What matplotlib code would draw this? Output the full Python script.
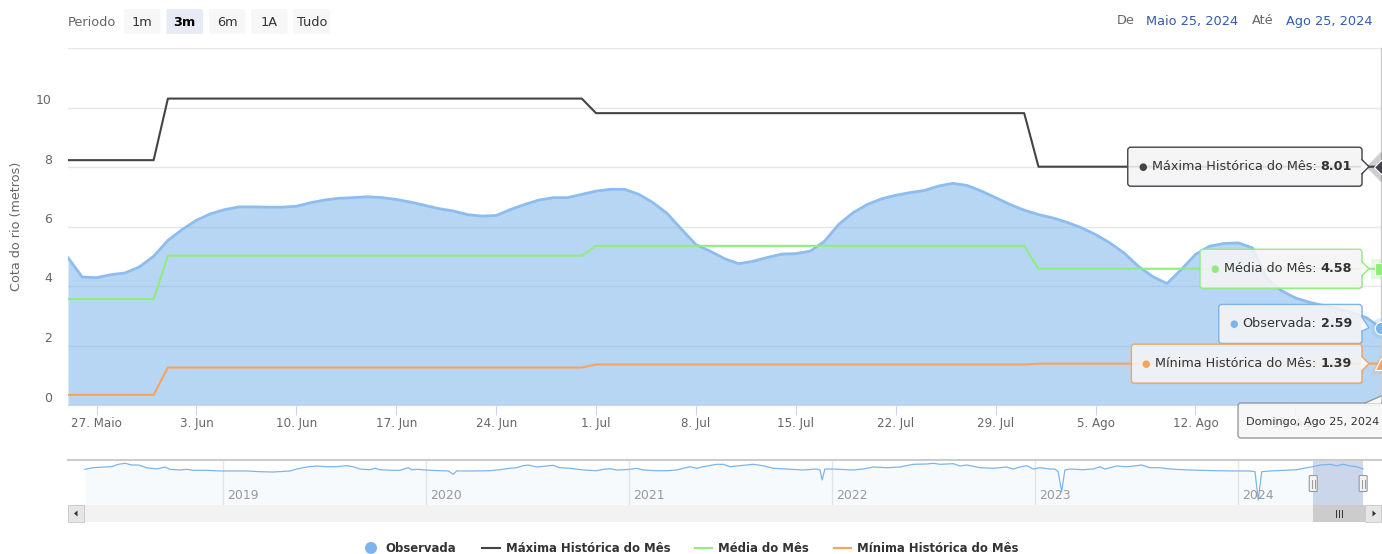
import numpy as np
import pandas as pd
import matplotlib
matplotlib.use('Agg')
import matplotlib.pyplot as plt
import matplotlib.dates as mdates
import matplotlib.transforms as mtransforms
from matplotlib.patches import FancyBboxPatch, Rectangle, Polygon, Circle
from matplotlib.lines import Line2D

plt.rcParams['font.family'] = ['DejaVu Sans']

W, H = 1382, 554

# ------------------------------------------------------------------------
# Data
days = pd.date_range('2024-05-25', '2024-08-25', freq='D')
observada = [4.95, 4.30, 4.28, 4.38, 4.44, 4.64, 5.00,
             5.53, 5.90, 6.21, 6.43, 6.57, 6.66, 6.66, 6.65, 6.65, 6.68,
             6.80, 6.89, 6.95, 6.97, 7.00, 6.97, 6.91, 6.82, 6.71, 6.60,
             6.52, 6.40, 6.35, 6.37, 6.57, 6.74, 6.89, 6.97, 6.97, 7.08,
             7.19, 7.25, 7.25, 7.08, 6.80, 6.43, 5.90, 5.39, 5.17, 4.92,
             4.75, 4.83, 4.96, 5.07, 5.09, 5.17, 5.50, 6.07, 6.46, 6.74,
             6.93, 7.05, 7.14, 7.21, 7.36, 7.45, 7.38, 7.19, 6.97, 6.74, 6.55,
             6.40, 6.29, 6.14, 5.96, 5.73, 5.45, 5.11, 4.66, 4.32, 4.08,
             4.55, 5.06, 5.34, 5.43, 5.45, 5.28, 4.25, 3.85, 3.60, 3.45,
             3.34, 3.24, 3.10, 2.93, 2.59]

months = ['2024-05', '2024-06', '2024-07', '2024-08']
maxima_mes = [8.23, 10.30, 9.81, 8.01]
media_mes = [3.56, 5.02, 5.35, 4.58]
minima_mes = [0.34, 1.26, 1.36, 1.39]

y_ticks = [0, 2, 4, 6, 8, 10, 12]
tick_dates = pd.to_datetime(['2024-05-27', '2024-06-03', '2024-06-10', '2024-06-17',
                             '2024-06-24', '2024-07-01', '2024-07-08', '2024-07-15',
                             '2024-07-22', '2024-07-29', '2024-08-05', '2024-08-12',
                             '2024-08-19'])
tick_labels = ['27. Maio', '3. Jun', '10. Jun', '17. Jun', '24. Jun', '1. Jul', '8. Jul',
               '15. Jul', '22. Jul', '29. Jul', '5. Ago', '12. Ago', '19. Ago']
month_pt = {5: 'Maio', 6: 'Jun', 7: 'Jul', 8: 'Ago'}
weekday_pt = ['Segunda', 'Terça', 'Quarta', 'Quinta', 'Sexta', 'Sábado', 'Domingo']

# navigator (whole record, decimal years)
nav_year = [2018.318, 2018.359, 2018.409, 2018.450, 2018.483, 2018.516, 2018.549, 2018.581,
            2018.622, 2018.672, 2018.713, 2018.737, 2018.787, 2018.820, 2018.852, 2018.918,
            2018.984, 2019.049, 2019.115, 2019.181, 2019.246, 2019.329, 2019.362, 2019.411,
            2019.460, 2019.510, 2019.559, 2019.608, 2019.641, 2019.674, 2019.723, 2019.748,
            2019.772, 2019.838, 2019.871, 2019.912, 2019.929, 2019.961, 2019.994, 2020.068,
            2020.109, 2020.134, 2020.150, 2020.232, 2020.314, 2020.364, 2020.413, 2020.446,
            2020.479, 2020.503, 2020.545, 2020.577, 2020.626, 2020.659, 2020.709, 2020.774,
            2020.840, 2020.873, 2020.906, 2020.939, 2020.971, 2021.004, 2021.037, 2021.070,
            2021.136, 2021.185, 2021.235, 2021.267, 2021.300, 2021.333, 2021.366, 2021.432,
            2021.464, 2021.497, 2021.547, 2021.612, 2021.661, 2021.711, 2021.777, 2021.859,
            2021.925, 2021.941, 2021.952, 2021.965, 2022.006, 2022.105, 2022.154, 2022.204,
            2022.270, 2022.335, 2022.368, 2022.401, 2022.467, 2022.499, 2022.532, 2022.598,
            2022.631, 2022.664, 2022.729, 2022.795, 2022.861, 2022.894, 2022.926, 2022.960,
            2022.992, 2023.025, 2023.074, 2023.099, 2023.115, 2023.132, 2023.148, 2023.172,
            2023.238, 2023.288, 2023.321, 2023.345, 2023.370, 2023.403, 2023.452, 2023.502,
            2023.526, 2023.567, 2023.616, 2023.666, 2023.731, 2023.814, 2023.896, 2023.994,
            2024.060, 2024.085, 2024.101, 2024.118, 2024.159, 2024.224, 2024.290, 2024.340,
            2024.372, 2024.405, 2024.454, 2024.487, 2024.520, 2024.553, 2024.586, 2024.618]
nav_level = [7.93, 8.29, 8.44, 8.51, 9.04, 9.27, 8.89, 8.89,
             8.29, 8.00, 8.44, 7.93, 7.78, 7.93, 7.71, 7.71,
             7.56, 7.56, 7.56, 7.40, 7.33, 7.56, 8.00, 8.44,
             8.67, 8.51, 8.51, 8.73, 8.51, 8.00, 7.84, 8.16,
             7.84, 7.71, 7.71, 8.29, 7.84, 7.93, 7.78, 7.62,
             7.56, 6.82, 7.56, 7.56, 7.62, 7.84, 8.16, 8.29,
             8.73, 8.89, 8.44, 8.60, 8.82, 8.29, 8.16, 7.78,
             7.62, 7.93, 8.07, 7.78, 7.84, 7.93, 8.16, 7.78,
             7.62, 7.62, 7.78, 8.16, 8.51, 8.16, 8.51, 9.04,
             9.04, 8.51, 8.73, 9.04, 8.73, 8.16, 8.00, 7.78,
             8.00, 7.78, 5.56, 8.00, 8.00, 7.78, 8.00, 8.44,
             8.29, 8.44, 8.73, 9.04, 9.11, 9.27, 9.04, 9.18,
             8.67, 8.89, 8.29, 8.16, 8.44, 8.00, 8.44, 8.73,
             8.00, 8.29, 8.00, 8.00, 7.40, 2.96, 7.78, 8.00,
             7.84, 8.00, 8.51, 8.00, 8.29, 8.67, 8.51, 8.73,
             8.89, 8.29, 8.29, 8.00, 7.84, 7.71, 7.62, 7.56,
             7.56, 7.40, 1.11, 7.40, 7.56, 7.71, 7.84, 8.29,
             8.51, 8.89, 9.04, 8.73, 9.04, 8.67, 8.51, 8.00]
nav_years = [2019, 2020, 2021, 2022, 2023, 2024]
nav_window = (2024.372, 2024.618)
# ------------------------------------------------------------------------

month_of_day = list(days.strftime('%Y-%m'))
maxima = [maxima_mes[months.index(m)] for m in month_of_day]
media = [media_mes[months.index(m)] for m in month_of_day]
minima = [minima_mes[months.index(m)] for m in month_of_day]

C_OBS, C_MAX, C_MED, C_MIN = '#7cb5ec', '#434348', '#90ed7d', '#f7a35c'

fig = plt.figure(figsize=(W / 100, H / 100), dpi=100)
fig.patch.set_facecolor('white')
IDT = mtransforms.IdentityTransform()


def P(x, y):
    # top-left pixel coords -> display coords
    return x, H - y


# ---- main chart
ax = fig.add_axes([68 / W, 1 - 405 / H, (1381 - 68) / W, (405 - 48) / H])
ax.set_xlim(days[0], days[-1])
ax.set_ylim(0, 12)

ax.fill_between(days, observada, 0, color=C_OBS, alpha=0.55, lw=0, zorder=2)
ax.plot(days, observada, color='#8cbdee', lw=2.0, zorder=3)
ax.plot(days, maxima, color=C_MAX, lw=1.5, zorder=4)
ax.plot(days, media, color=C_MED, lw=1.5, zorder=4)
ax.plot(days, minima, color=C_MIN, lw=1.5, zorder=4)

ax.set_yticks(y_ticks)
ax.tick_params(axis='y', length=0, labelleft=False)
ax.yaxis.grid(True, color='#e6e6e6', lw=1)
ax.set_axisbelow(True)
for v in y_ticks[:-1]:
    ax.annotate(str(v), xy=(0, v), xycoords=('axes fraction', 'data'), xytext=(-16, 7),
                textcoords='offset pixels', ha='right', va='center', color='#666666', fontsize=9)

ax.set_xticks(tick_dates, tick_labels)
ax.tick_params(axis='x', length=7.2, width=0.8, color='#ccd6eb', labelcolor='#666666',
               labelsize=8.6, pad=1.5)
for s in ['left', 'right', 'top']:
    ax.spines[s].set_visible(False)
ax.spines['bottom'].set_color('#ccd6eb')

fig.text(*P(17, 226), 'Cota do rio (metros)', transform=IDT, rotation=90, ha='center',
         va='center', color='#666666', fontsize=9.2)

# crosshair + hover markers
xe = days[-1]
ax.axvline(xe, color='#cccccc', lw=1, clip_on=False, zorder=5)
for val, mk, c, ms in [(maxima[-1], 'D', C_MAX, 7), (media[-1], 's', C_MED, 8),
                       (observada[-1], 'o', C_OBS, 9), (minima[-1], '^', C_MIN, 9)]:
    ax.plot([xe], [val], marker=mk, ms=15, color=c, alpha=0.25, mew=0, ls='none',
            clip_on=False, zorder=6)
    ax.plot([xe], [val], marker=mk, ms=ms, color=c, mec='white', mew=0.8, ls='none',
            clip_on=False, zorder=7)

# ---- split tooltips
renderer = fig.canvas.get_renderer()
TT = 9.2


def tooltip(val, label, color, dy=0):
    x0, y0 = ax.transData.transform((mdates.date2num(xe), val))
    cy = y0 + dy
    right = x0 - 19
    t_val = fig.text(right - 10, cy, f'{val:.2f}', transform=IDT, ha='right', va='center',
                     fontsize=TT, fontweight='bold', color='#333333', zorder=12)
    wv = t_val.get_window_extent(renderer).width
    t_lab = fig.text(right - 14 - wv, cy, label + ':', transform=IDT, ha='right', va='center',
                     fontsize=TT, color='#333333', zorder=12)
    wl = t_lab.get_window_extent(renderer).width
    left_text = right - 14 - wv - wl
    fig.text(left_text - 5, cy, '●', transform=IDT, ha='right', va='center', fontsize=7,
             color=color, zorder=12)
    left = left_text - 24
    fig.add_artist(FancyBboxPatch((left + 1, cy - 20.5), right - left, 39,
                                  boxstyle='round,pad=0,rounding_size=3', transform=IDT,
                                  fc=(0, 0, 0, 0.08), ec='none', zorder=10))
    fig.add_artist(FancyBboxPatch((left, cy - 19.5), right - left, 39,
                                  boxstyle='round,pad=0,rounding_size=3', transform=IDT,
                                  fc=(0.969, 0.969, 0.969, 0.88), ec=color, lw=1, zorder=10.5))
    fig.add_artist(Polygon([(right - 1, cy + 7), (right + 7, y0), (right - 1, cy - 7)],
                           closed=True, transform=IDT, fc='#f7f7f7', ec='none', zorder=11))
    fig.add_artist(Line2D([right, right + 7, right], [cy + 7, y0, cy - 7], transform=IDT,
                          color=color, lw=1, zorder=11.5))


tooltip(maxima[-1], 'Máxima Histórica do Mês', C_MAX)
tooltip(media[-1], 'Média do Mês', C_MED)
tooltip(observada[-1], 'Observada', C_OBS, dy=4)
tooltip(minima[-1], 'Mínima Histórica do Mês', C_MIN)

# date header of the tooltip
header = f'{weekday_pt[xe.dayofweek]}, {month_pt[xe.month]} {xe.day}, {xe.year}'
fig.add_artist(FancyBboxPatch(P(1238, 438), 160, 35, boxstyle='round,pad=0,rounding_size=3',
                              transform=IDT, fc=(0.969, 0.969, 0.969, 0.88), ec='#999999',
                              lw=1, zorder=10.5))
fig.add_artist(Polygon([P(1365, 403.5), P(1381, 396), P(1381, 403.5)], closed=True,
                       transform=IDT, fc='#f7f7f7', ec='none', zorder=11))
fig.add_artist(Line2D([1365, 1381], [H - 403, H - 396], transform=IDT, color='#999999',
                      lw=1, zorder=11.5))
fig.text(*P(1246, 422), header, transform=IDT, ha='left', va='center', fontsize=8.1,
         color='#333333', zorder=12)

# ---- range selector + input dates
fig.text(*P(68, 22), 'Periodo', transform=IDT, ha='left', va='center', fontsize=9.3,
         color='#666666')
buttons = ['1m', '3m', '6m', '1A', 'Tudo']
btn_left = [124, 166.5, 209, 251, 293.5]
for lbl, bx in zip(buttons, btn_left):
    sel = lbl == '3m'
    fig.add_artist(FancyBboxPatch(P(bx, 34), 36.5, 25, boxstyle='round,pad=0,rounding_size=2',
                                  transform=IDT, fc='#e6ebf5' if sel else '#f7f7f7', ec='none'))
    fig.text(*P(bx + 18.25, 22), lbl, transform=IDT, ha='center', va='center', fontsize=9.3,
             color='#000000' if sel else '#333333', fontweight='bold' if sel else 'normal')

d0, d1 = days[0], days[-1]
for s, x, c in [('De', 1117, '#666666'),
                (f'{month_pt[d0.month]} {d0.day}, {d0.year}', 1146, '#335cad'),
                ('Até', 1252, '#666666'),
                (f'{month_pt[d1.month]} {d1.day}, {d1.year}', 1286, '#335cad')]:
    fig.text(*P(x, 21), s, transform=IDT, ha='left', va='center', fontsize=9.3, color=c)

# ---- navigator
nav = fig.add_axes([68 / W, 1 - 505 / H, (1381 - 68) / W, 45 / H])
nav.set_xlim(2018.235, 2024.706)
nav.set_ylim(0, 10)
nav.fill_between(nav_year, nav_level, 0, color=C_OBS, alpha=0.06, lw=0)
nav.plot(nav_year, nav_level, color=C_OBS, lw=0.9)
nav.set_xticks(nav_years)
nav.set_yticks([])
nav.tick_params(axis='x', length=0, labelbottom=False)
nav.xaxis.grid(True, color='#e6e6e6', lw=1)
nav.set_axisbelow(True)
for s in nav.spines.values():
    s.set_visible(False)
nav.spines['top'].set_visible(True)
nav.spines['top'].set_color('#cccccc')
nav.spines['top'].set_linewidth(1.5)
for yr in nav_years:
    nav.annotate(str(yr), xy=(yr, 0.22), xycoords=('data', 'axes fraction'), xytext=(4, 0),
                 textcoords='offset pixels', ha='left', va='center', color='#999999', fontsize=9)
nav.axvspan(*nav_window, color=(0.4, 0.522, 0.761), alpha=0.3, lw=0)

wx0 = nav.transData.transform((nav_window[0], 0))[0]
wx1 = nav.transData.transform((nav_window[1], 0))[0]
for hx in (wx0, wx1):
    fig.add_artist(FancyBboxPatch((hx - 4, H - 491.5), 8, 16, boxstyle='round,pad=0,rounding_size=1',
                                  transform=IDT, fc='#f2f2f2', ec='#999999', lw=0.8, zorder=5))
    for dx in (-1.5, 1.5):
        fig.add_artist(Line2D([hx + dx, hx + dx], [H - 487.5, H - 479.5], transform=IDT,
                              color='#999999', lw=0.7, zorder=6))

# ---- scrollbar
fig.add_artist(Rectangle(P(68, 522), 1313, 17, transform=IDT, fc='#f2f2f2', ec='none'))
fig.add_artist(Rectangle(P(68, 522), 16, 17, transform=IDT, fc='#e6e6e6', ec='#cccccc', lw=0.7))
fig.add_artist(Polygon([P(74, 513.5), P(77.5, 510.5), P(77.5, 516.5)], closed=True,
                       transform=IDT, fc='#333333', ec='none'))
fig.add_artist(Rectangle((wx0, H - 522), 1365 - wx0, 17, transform=IDT, fc='#cccccc', ec='none'))
fig.add_artist(Rectangle(P(1365, 522), 16, 17, transform=IDT, fc='#e6e6e6', ec='#cccccc', lw=0.7))
fig.add_artist(Polygon([P(1376, 513.5), P(1372.5, 510.5), P(1372.5, 516.5)], closed=True,
                       transform=IDT, fc='#333333', ec='none'))
rx = (wx0 + 1365) / 2
for dx in (-3, 0, 3):
    fig.add_artist(Line2D([rx + dx, rx + dx], [H - 517, H - 510], transform=IDT,
                          color='#333333', lw=0.7))

# ---- legend
LY = 548
fig.add_artist(Circle(P(371, LY), 6, transform=IDT, fc=C_OBS, ec='none'))
fig.text(*P(385, LY), 'Observada', transform=IDT, ha='left', va='center', fontsize=8.4,
         fontweight='bold', color='#333333')
for x0, x1, c, s in [(482, 500, C_MAX, 'Máxima Histórica do Mês'),
                     (695, 712, C_MED, 'Média do Mês'),
                     (834, 851, C_MIN, 'Mínima Histórica do Mês')]:
    fig.add_artist(Line2D([x0, x1], [H - LY, H - LY], transform=IDT, color=c, lw=1.5))
    fig.text(*P(x1 + 6, LY), s, transform=IDT, ha='left', va='center', fontsize=8.4,
             fontweight='bold', color='#333333')

fig.savefig('out.png', dpi=100, facecolor='white')
